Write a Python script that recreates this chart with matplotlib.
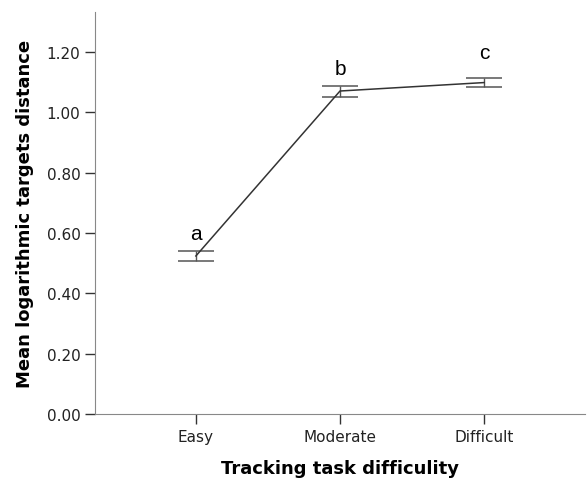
import numpy as np
import matplotlib.pyplot as plt

# mean log target distance per difficulty level, with error bar limits
levels = ['Easy', 'Moderate', 'Difficult']
means = [0.524, 1.071, 1.099]
lower = [0.507, 1.050, 1.084]
upper = [0.541, 1.088, 1.114]
groups = ['a', 'b', 'c']
group_y = [0.60, 1.145, 1.20]

fig = plt.figure(figsize=(5.87, 4.81), dpi=100)
ax = fig.add_axes([95/587, 66/481, 490/587, 402/481])

x = np.arange(len(levels))
m = np.array(means)
yerr = [m - np.array(lower), np.array(upper) - m]
ax.errorbar(x, m, yerr=yerr, color='#333333', lw=1.1, capsize=13,
            capthick=1.1, ecolor='#555555', elinewidth=1.0)

for xi, gy, g in zip(x, group_y, groups):
    ax.text(xi, gy, g, ha='center', va='center', fontsize=15,
            family='Liberation Sans')

ax.set_xlim(-0.7, 2.7)
ax.set_ylim(0, 1.333)
ax.set_xticks(x)
ax.set_xticklabels(levels)
ax.set_yticks(np.arange(0, 1.21, 0.2))
ax.set_yticklabels(['%.2f' % v for v in np.arange(0, 1.21, 0.2)])

for s in ['top', 'right']:
    ax.spines[s].set_visible(False)
for s in ['left', 'bottom']:
    ax.spines[s].set_color('#888888')
ax.tick_params(direction='out', length=7, width=1, color='#333333',
               labelsize=11, labelcolor='#222222')

ax.set_xlabel('Tracking task difficulity', fontsize=13, fontweight='bold', labelpad=11)
ax.set_ylabel('Mean logarithmic targets distance', fontsize=13, fontweight='bold', labelpad=9)

fig.savefig('out.png', dpi=100)
